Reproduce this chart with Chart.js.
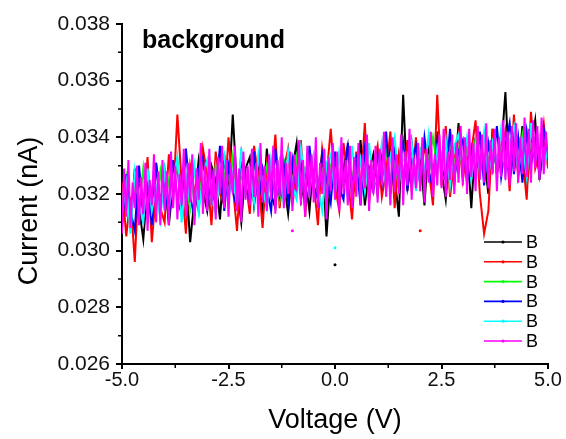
<!DOCTYPE html>
<html>
<head>
<meta charset="utf-8">
<script src="https://cdn.jsdelivr.net/npm/chart.js@4"></script>
<style>
  html, body { margin: 0; padding: 0; background: #fff; }
</style>
</head>
<body>
<canvas id="ivChart" width="566" height="439"></canvas>
<script>
// voltage sweeps, -5 V to +5 V (0.1 V steps, and 0.05 V for the top trace)
const voltage = [];
for (let i = 0; i <= 100; i++) voltage.push(+(-5 + i * 0.1).toFixed(2));
const voltageFine = [];
for (let i = 0; i <= 200; i++) voltageFine.push(+(-5 + i * 0.05).toFixed(2));

// currents, in pA (divided by 1000 to get nA)
const traceBlack = [
  31.2, 32.6, 30.8, 32.9, 31.5, 30.4, 32.3, 31.0, 33.1, 31.6,
  32.8, 30.9, 32.4, 33.0, 31.3, 32.7, 30.3, 31.8, 33.2, 32.1,
  31.4, 33.0, 32.5, 31.1, 33.4, 31.9, 34.8, 32.2, 31.0, 32.9,
  33.3, 31.6, 32.8, 31.2, 33.6, 32.0, 31.5, 33.1, 32.4, 31.3,
  32.9, 33.8, 31.8, 32.6, 31.4, 33.2, 32.0, 33.5, 30.5, 32.7,
  33.1, 31.7, 32.9, 33.7, 31.9, 32.5, 33.9, 31.6, 32.8, 33.4,
  32.0, 33.5, 32.3, 33.9, 32.6, 31.2, 35.5, 32.1, 33.8, 32.5,
  33.4, 31.6, 33.9, 32.4, 34.2, 32.8, 31.8, 33.7, 32.3, 34.5,
  32.6, 33.8, 31.5, 34.0, 32.9, 33.3, 32.0, 34.3, 32.7, 33.5,
  35.6, 32.4, 33.9, 32.8, 34.4, 32.3, 33.6, 34.6, 32.5, 33.8,
  33.2
];
const traceRed = [
  32.4, 30.5, 31.9, 29.6, 32.8, 31.3, 33.3, 30.3, 32.1, 31.5,
  31.0, 33.4, 31.8, 34.8, 32.4, 30.6, 33.0, 32.1, 31.4, 33.6,
  32.7, 30.9, 33.5, 32.0, 31.6, 34.0, 32.3, 30.7, 33.2, 32.5,
  31.3, 33.7, 32.6, 30.8, 33.1, 32.2, 34.1, 31.5, 32.9, 33.6,
  31.6, 32.8, 33.9, 31.2, 33.3, 32.4, 30.9, 33.6, 32.6, 34.3,
  32.3, 31.4, 33.8, 32.6, 31.1, 33.5, 32.2, 34.5, 31.7, 33.0,
  33.7, 31.9, 32.8, 34.2, 31.5, 33.4, 32.5, 33.9, 32.1, 34.0,
  32.4, 33.7, 32.9, 31.6, 35.5, 32.3, 34.4, 31.9, 33.2, 34.1,
  32.5, 33.6, 33.5, 34.6, 32.0, 30.6, 31.4, 34.3, 32.8, 33.2,
  34.2, 32.1, 34.8, 32.6, 33.4, 31.8, 34.9, 32.9, 33.5, 34.5,
  32.9
];
const traceGreen = [
  31.8, 32.6, 31.2, 32.4, 31.5, 32.9, 31.4, 32.2, 31.7, 32.8,
  31.6, 32.5, 32.0, 33.2, 31.8, 32.4, 31.5, 32.9, 32.1, 32.6,
  32.3, 31.7, 33.0, 32.2, 32.7, 31.9, 33.3, 32.0, 32.6, 32.4,
  31.9, 33.1, 32.5, 32.1, 33.0, 32.3, 32.8, 31.8, 33.2, 32.6,
  32.4, 33.3, 32.0, 32.9, 32.5, 33.1, 32.2, 32.8, 31.7, 33.0,
  32.7, 33.4, 32.3, 32.9, 32.6, 33.2, 32.1, 33.5, 32.8, 32.4,
  33.1, 32.6, 33.6, 32.5, 33.0, 32.3, 33.7, 32.9, 33.3, 32.7,
  33.5, 32.8, 33.2, 34.0, 32.9, 33.4, 32.5, 33.8, 33.1, 33.6,
  32.9, 33.5, 33.0, 33.9, 32.7, 33.4, 33.2, 33.8, 32.8, 33.6,
  33.9, 33.1, 33.5, 32.9, 34.1, 33.2, 33.7, 34.0, 33.3, 33.6,
  33.4
];
const traceBlue = [
  30.8, 32.7, 31.4, 30.7, 33.0, 31.2, 32.4, 30.9, 33.1, 31.5,
  32.5, 31.1, 33.2, 31.8, 31.3, 33.6, 31.9, 31.2, 32.9, 33.3,
  31.6, 32.8, 32.0, 33.7, 31.4, 33.0, 32.1, 31.5, 33.4, 32.3,
  31.8, 33.5, 31.7, 32.9, 32.2, 31.4, 33.6, 32.0, 33.0, 31.7,
  33.2, 32.1, 33.1, 31.6, 33.7, 32.3, 31.8, 33.4, 32.5, 31.7,
  33.5, 32.2, 31.8, 33.8, 32.3, 33.2, 31.6, 33.6, 32.7, 32.1,
  33.4, 32.4, 34.2, 32.0, 33.5, 32.6, 33.8, 32.2, 33.1, 33.7,
  32.3, 34.0, 32.8, 32.2, 33.8, 32.9, 32.5, 34.3, 32.6, 33.5,
  33.9, 32.4, 33.6, 32.7, 34.2, 32.3, 33.8, 32.9, 34.4, 32.6,
  33.7, 34.5, 32.7, 34.0, 32.4, 34.2, 33.0, 33.9, 32.7, 34.3,
  33.3
];
const traceCyan = [
  31.3, 32.4, 30.6, 32.8, 31.7, 31.0, 32.9, 31.4, 32.2, 31.1,
  32.8, 31.5, 32.4, 33.3, 31.0, 32.7, 31.7, 33.0, 31.4, 32.6,
  33.2, 31.9, 31.3, 32.9, 33.4, 31.8, 32.7, 31.6, 33.6, 32.0,
  32.8, 31.7, 33.4, 32.2, 31.5, 33.2, 32.1, 33.1, 31.6, 33.5,
  32.3, 31.8, 33.6, 32.4, 32.0, 33.3, 32.2, 31.4, 33.1, 33.4,
  32.0, 33.5, 32.5, 31.9, 33.7, 32.4, 33.2, 32.1, 33.8, 32.3,
  32.7, 33.8, 32.2, 33.3, 34.0, 32.4, 33.4, 32.7, 33.8, 32.1,
  33.5, 32.8, 34.1, 32.4, 33.6, 32.7, 33.9, 32.3, 33.7, 34.1,
  33.0, 34.0, 32.5, 33.7, 32.9, 34.2, 32.6, 33.8, 33.1, 34.3,
  32.7, 33.9, 34.4, 32.8, 33.8, 32.6, 34.5, 33.2, 34.0, 32.9,
  33.6
];
const traceMagenta = [
  30.6, 32.9, 31.2, 33.2, 30.8, 32.4, 31.5, 33.0, 30.9, 32.6,
  31.3, 33.1, 30.7, 32.5, 31.6, 33.4, 31.0, 32.8, 30.9, 33.2,
  31.4, 32.8, 30.9, 33.5, 31.5, 33.0, 31.1, 32.7, 31.6, 33.6,
  31.2, 33.1, 31.7, 33.4, 30.9, 32.9, 31.8, 33.8, 31.3, 33.0,
  31.4, 33.6, 31.6, 32.9, 31.1, 33.3, 32.0, 33.7, 31.5, 33.2,
  31.2, 33.1, 32.0, 33.7, 31.4, 32.9, 31.0, 33.5, 31.8, 33.0,
  31.6, 33.6, 31.9, 33.1, 31.2, 33.8, 31.7, 33.0, 31.4, 33.4,
  31.8, 33.7, 31.3, 33.2, 31.9, 34.0, 31.5, 33.1, 32.0, 33.5,
  31.4, 33.4, 32.1, 33.9, 31.6, 33.2, 31.2, 33.7, 31.9, 33.4,
  31.7, 34.0, 31.5, 33.1, 32.0, 33.6, 31.1, 33.3, 32.1, 33.8,
  31.8, 33.5, 31.4, 34.0, 32.0, 33.2, 31.6, 33.7, 31.5, 33.3,
  31.9, 33.8, 31.6, 33.4, 32.2, 34.1, 31.4, 33.2, 32.0, 33.7,
  31.7, 33.6, 32.3, 34.2, 31.9, 33.3, 31.6, 34.0, 32.1, 33.4,
  32.0, 34.1, 31.6, 33.5, 32.3, 34.3, 31.8, 33.3, 32.2, 33.8,
  32.1, 34.0, 31.7, 33.6, 32.4, 34.2, 31.9, 33.4, 32.3, 34.1,
  32.2, 34.3, 31.9, 33.5, 32.5, 34.1, 32.0, 33.8, 32.4, 34.4,
  32.3, 34.0, 32.0, 34.3, 32.6, 33.8, 32.1, 34.4, 32.5, 34.1,
  32.4, 34.5, 32.2, 33.9, 32.7, 34.3, 32.1, 34.0, 32.6, 34.6,
  32.5, 34.2, 32.3, 34.4, 32.8, 34.5, 32.4, 34.0, 32.7, 34.7,
  32.6, 34.3, 32.4, 34.6, 32.9, 34.4, 32.5, 34.7, 32.7, 34.2,
  33.3
];

// a few isolated points that sit away from the band
const strayV = [-1.0, 0.0, 0.0, 2.0];
const strayI = [30.7, 30.1, 29.5, 30.7];
const strayColors = ['#ff00ff', '#00ffff', '#000000', '#ff0000'];

const seriesNames = ['B', 'B', 'B', 'B', 'B', 'B'];
const seriesColors = ['#000000', '#ff0000', '#00ff00', '#0000ff', '#00ffff', '#ff00ff'];
const seriesValues = [traceBlack, traceRed, traceGreen, traceBlue, traceCyan, traceMagenta];
const seriesVoltage = [voltage, voltage, voltage, voltage, voltage, voltageFine];

const yTicks = [0.026, 0.028, 0.030, 0.032, 0.034, 0.036, 0.038];
const xTicks = [-5.0, -2.5, 0.0, 2.5, 5.0];

function toPoints(vs, vals) {
    return vs.map((v, i) => ({ x: v, y: vals[i] / 1000 }));
}

const datasets = seriesValues.map((vals, k) => ({
    label: seriesNames[k],
    data: toPoints(seriesVoltage[k], vals),
    borderColor: seriesColors[k],
    backgroundColor: seriesColors[k],
    borderWidth: 2,
    pointRadius: 0,
    tension: 0,
    order: seriesValues.length - k
}));
datasets.push({
    label: 'stray',
    data: toPoints(strayV, strayI),
    showLine: false,
    pointRadius: 1.5,
    pointBorderWidth: 0,
    pointBackgroundColor: strayColors,
    order: 0
});

// axis titles, inner title, legend and minor ticks
const decorations = {
    id: 'decorations',
    afterDraw(chart) {
        const ctx = chart.ctx;
        const xs = chart.scales.x, ys = chart.scales.y;
        const area = chart.chartArea;
        ctx.save();
        ctx.strokeStyle = '#000';
        ctx.lineWidth = 1.5;
        ctx.beginPath();
        for (let i = 0; i < xTicks.length - 1; i++) {
            const px = xs.getPixelForValue((xTicks[i] + xTicks[i + 1]) / 2);
            ctx.moveTo(px, area.bottom);
            ctx.lineTo(px, area.bottom + 4);
        }
        for (let i = 0; i < yTicks.length - 1; i++) {
            const py = ys.getPixelForValue((yTicks[i] + yTicks[i + 1]) / 2);
            ctx.moveTo(area.left, py);
            ctx.lineTo(area.left - 4, py);
        }
        ctx.stroke();

        ctx.fillStyle = '#000';
        ctx.font = 'bold 25px "Liberation Sans", Arial, sans-serif';
        ctx.textAlign = 'left';
        ctx.textBaseline = 'alphabetic';
        ctx.fillText('background', 142, 48);

        ctx.font = '27px "Liberation Sans", Arial, sans-serif';
        ctx.textAlign = 'center';
        ctx.fillText('Voltage (V)', (area.left + area.right) / 2, 428);
        ctx.save();
        ctx.translate(37, 211);
        ctx.rotate(-Math.PI / 2);
        ctx.fillText('Current (nA)', 0, 0);
        ctx.restore();

        // legend
        ctx.font = '18px "Liberation Sans", Arial, sans-serif';
        ctx.textAlign = 'left';
        ctx.textBaseline = 'middle';
        chart.data.datasets.slice(0, seriesNames.length).forEach((ds, k) => {
            const y = 242 + k * 19.8;
            ctx.strokeStyle = ds.borderColor;
            ctx.lineWidth = 1.6;
            ctx.beginPath();
            ctx.moveTo(484, y);
            ctx.lineTo(522, y);
            ctx.stroke();
            ctx.fillStyle = ds.borderColor;
            ctx.beginPath();
            ctx.arc(503, y, 1.6, 0, Math.PI * 2);
            ctx.fill();
            ctx.fillStyle = '#000';
            ctx.fillText(ds.label, 526, y + 1);
        });
        ctx.restore();
    }
};

new Chart(document.getElementById('ivChart'), {
    type: 'line',
    data: { datasets: datasets },
    plugins: [decorations],
    options: {
        responsive: false,
        animation: false,
        layout: { padding: { top: 24, right: 18, left: 0, bottom: 0 } },
        plugins: {
            legend: { display: false },
            tooltip: { enabled: false }
        },
        scales: {
            x: {
                type: 'linear',
                min: -5,
                max: 5,
                afterFit: (s) => { s.height = 75; },
                afterBuildTicks: (s) => { s.ticks = xTicks.map(v => ({ value: v })); },
                ticks: {
                    callback: (v) => Number(v).toFixed(1),
                    color: '#111',
                    font: { family: '"Liberation Sans", Arial, sans-serif', size: 20, lineHeight: 1 },
                    padding: 1,
                    maxRotation: 0
                },
                grid: { display: true, drawOnChartArea: false, tickLength: 5, color: '#000', lineWidth: 2 },
                border: { display: true, color: '#000', width: 2 }
            },
            y: {
                min: 0.026,
                max: 0.038,
                afterFit: (s) => { s.width = 122; },
                afterBuildTicks: (s) => { s.ticks = yTicks.map(v => ({ value: v })); },
                ticks: {
                    callback: (v) => Number(v).toFixed(3),
                    color: '#111',
                    font: { family: '"Liberation Sans", Arial, sans-serif', size: 21 },
                    padding: 6
                },
                grid: { display: true, drawOnChartArea: false, tickLength: 6, color: '#000', lineWidth: 2 },
                border: { display: true, color: '#000', width: 2 }
            }
        }
    }
});
</script>
</body>
</html>
